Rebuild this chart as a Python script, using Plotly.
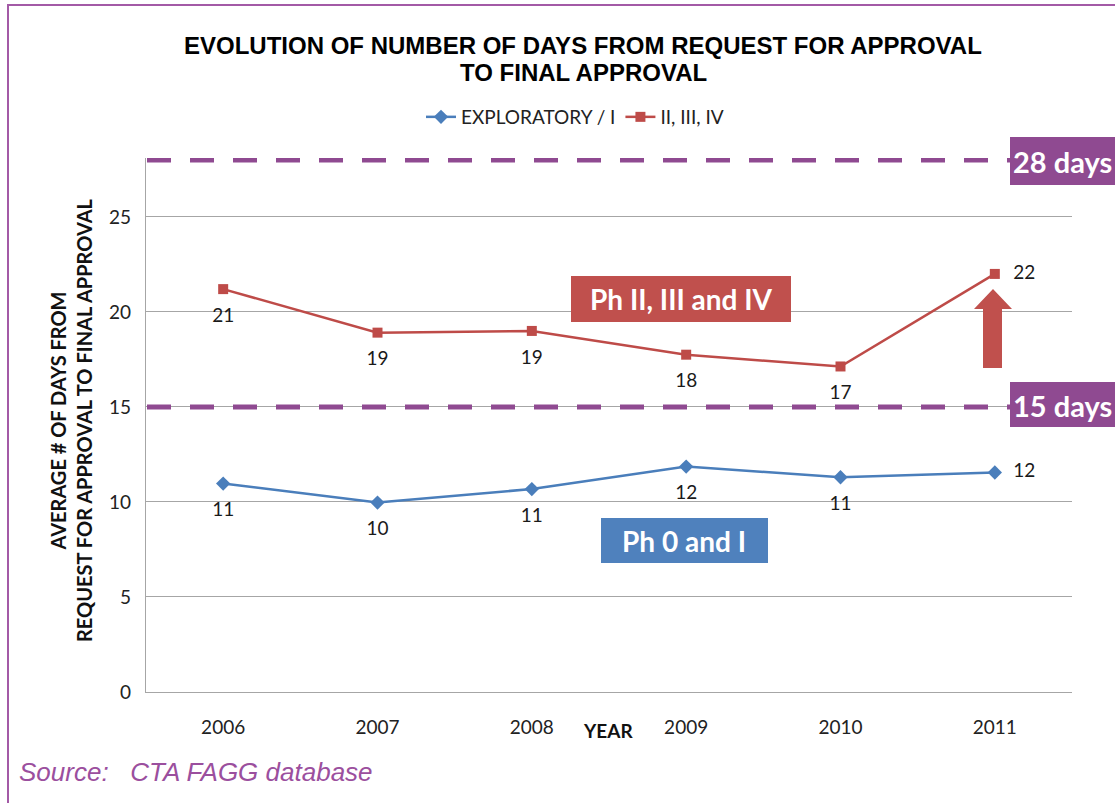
import plotly.graph_objects as go

years = ["2006", "2007", "2008", "2009", "2010", "2011"]
exploratory = [10.97, 9.97, 10.68, 11.86, 11.3, 11.55]
phase_2_4 = [21.2, 18.91, 19.0, 17.75, 17.13, 22.0]
exploratory_labels = ["11", "10", "11", "12", "11", "12"]
phase_2_4_labels = ["21", "19", "19", "18", "17", "22"]
y_ticks = [0, 5, 10, 15, 20, 25]
threshold_low = 15
threshold_high = 28

W, H = 1115, 803
L, R, T, B = 146, 1072, 158, 692


def xp(px):
    return (px - L) / (R - L)


def yp(py):
    return (B - py) / (B - T)


BLUE = "#4a7ebb"
RED = "#be4b48"
PURPLE = "#8f4a91"
LABEL_FONT = "Lato, Carlito, Calibri, sans-serif"
ARIAL = "Liberation Sans, Arial, sans-serif"

fig = go.Figure()

fig.add_trace(go.Scatter(
    x=years, y=exploratory, mode="lines+markers", name="EXPLORATORY / I",
    line=dict(color=BLUE, width=2.5),
    marker=dict(symbol="diamond", size=11, color=BLUE),
))
fig.add_trace(go.Scatter(
    x=years, y=phase_2_4, mode="lines+markers", name="II, III, IV",
    line=dict(color=RED, width=2.5),
    marker=dict(symbol="square", size=10, color=RED),
))
# data labels (invisible larger markers give the label offset)
for vals, labels in ((exploratory, exploratory_labels), (phase_2_4, phase_2_4_labels)):
    fig.add_trace(go.Scatter(
        x=years, y=vals, mode="markers+text", showlegend=False, hoverinfo="skip",
        marker=dict(size=28, opacity=0),
        text=labels,
        textposition=["bottom center"] * 5 + ["middle right"],
        textfont=dict(family=LABEL_FONT, size=19, color="#1a1a1a"),
        cliponaxis=False,
    ))

shapes = []
for val in (threshold_low, threshold_high):
    shapes.append(dict(type="line", xref="paper", yref="y",
                       x0=xp(147), x1=xp(1010), y0=val, y1=val,
                       line=dict(color=PURPLE, width=5, dash="24px,19px"),
                       layer="above"))
for (y0, y1) in ((137, 185), (382, 427)):
    shapes.append(dict(type="rect", xref="paper", yref="paper",
                       x0=xp(1010), x1=xp(1120), y0=yp(y1), y1=yp(y0),
                       fillcolor=PURPLE, line=dict(width=0), layer="above"))
shapes.append(dict(type="rect", xref="paper", yref="paper",
                   x0=xp(571), x1=xp(791), y0=yp(322), y1=yp(276),
                   fillcolor="#c0504d", line=dict(width=0), layer="above"))
shapes.append(dict(type="rect", xref="paper", yref="paper",
                   x0=xp(601), x1=xp(768), y0=yp(563), y1=yp(518),
                   fillcolor="#4f81bd", line=dict(width=0), layer="above"))


def pt(px, py):
    return f"{xp(px):.5f},{yp(py):.5f}"


arrow_path = ("M " + pt(983, 368) + " L " + pt(983, 309) + " L " + pt(974, 309) +
              " L " + pt(993, 289) + " L " + pt(1012, 309) + " L " + pt(1002, 309) +
              " L " + pt(1002, 368) + " Z")
shapes.append(dict(type="path", xref="paper", yref="paper", path=arrow_path,
                   fillcolor="#c0504d", line=dict(width=0), layer="above"))
shapes.append(dict(type="rect", xref="paper", yref="paper",
                   x0=xp(8), x1=xp(1130), y0=yp(820), y1=yp(5),
                   line=dict(color="#a35aa6", width=2), fillcolor="rgba(0,0,0,0)"))

annotations = [
    dict(text="<b>EVOLUTION OF NUMBER OF DAYS FROM REQUEST FOR APPROVAL</b>",
         xref="paper", yref="paper", x=xp(583), y=yp(45), showarrow=False,
         font=dict(family=ARIAL, size=24, color="#000000"), xanchor="center", yanchor="middle"),
    dict(text="<b>TO FINAL APPROVAL</b>",
         xref="paper", yref="paper", x=xp(583), y=yp(73), showarrow=False,
         font=dict(family=ARIAL, size=24, color="#000000"), xanchor="center", yanchor="middle"),
    dict(text="<b>28 days</b>", xref="paper", yref="paper", x=xp(1062), y=yp(161),
         showarrow=False, font=dict(family=LABEL_FONT, size=29, color="white"),
         xanchor="center", yanchor="middle"),
    dict(text="<b>15 days</b>", xref="paper", yref="paper", x=xp(1062), y=yp(405),
         showarrow=False, font=dict(family=LABEL_FONT, size=29, color="white"),
         xanchor="center", yanchor="middle"),
    dict(text="<b>Ph II, III and IV</b>", xref="paper", yref="paper", x=xp(681), y=yp(299),
         showarrow=False, font=dict(family=LABEL_FONT, size=28, color="white"),
         xanchor="center", yanchor="middle"),
    dict(text="<b>Ph 0 and I</b>", xref="paper", yref="paper", x=xp(684), y=yp(541),
         showarrow=False, font=dict(family=LABEL_FONT, size=28, color="white"),
         xanchor="center", yanchor="middle"),
    dict(text="<b>AVERAGE # OF DAYS FROM<br>REQUEST FOR APPROVAL TO FINAL APPROVAL</b>",
         xref="paper", yref="paper", x=xp(71), y=yp(420), textangle=-90,
         showarrow=False, font=dict(family=LABEL_FONT, size=20, color="#111111"),
         xanchor="center", yanchor="middle"),
    dict(text="<b>YEAR</b>", xref="paper", yref="paper", x=xp(608), y=yp(730),
         showarrow=False, font=dict(family=LABEL_FONT, size=19, color="#111111"),
         xanchor="center", yanchor="middle"),
    dict(text="<i>Source:   CTA FAGG database</i>", xref="paper", yref="paper",
         x=xp(17), y=yp(772), showarrow=False,
         font=dict(family=ARIAL, size=26, color="#9b4f9e"),
         xanchor="left", yanchor="middle"),
]

fig.update_layout(
    width=W, height=H,
    margin=dict(l=L, r=W - R, t=T, b=H - B),
    paper_bgcolor="white", plot_bgcolor="white",
    legend=dict(orientation="h", x=xp(575), y=yp(117), xanchor="center", yanchor="middle",
                font=dict(family=LABEL_FONT, size=19, color="#222222"),
                bgcolor="rgba(0,0,0,0)", itemwidth=30, tracegroupgap=0),
    xaxis=dict(type="category", range=[-0.5, 5.5], showgrid=False,
               showline=True, linecolor="#a6a6a6", linewidth=1.2,
               ticks="", ticklabelstandoff=18,
               tickfont=dict(family=LABEL_FONT, size=19, color="#222222")),
    yaxis=dict(range=[0, 28.1], tickvals=y_ticks, showgrid=True, gridcolor="#a6a6a6",
               gridwidth=1, zeroline=False, showline=True, linecolor="#a6a6a6",
               linewidth=1.2, ticks="", ticklabelstandoff=10,
               tickfont=dict(family=LABEL_FONT, size=19, color="#222222")),
    shapes=shapes,
    annotations=annotations,
    showlegend=True,
)

fig.write_html("out.html", config={"displayModeBar": False},
               post_script="document.body.style.margin='0';")
